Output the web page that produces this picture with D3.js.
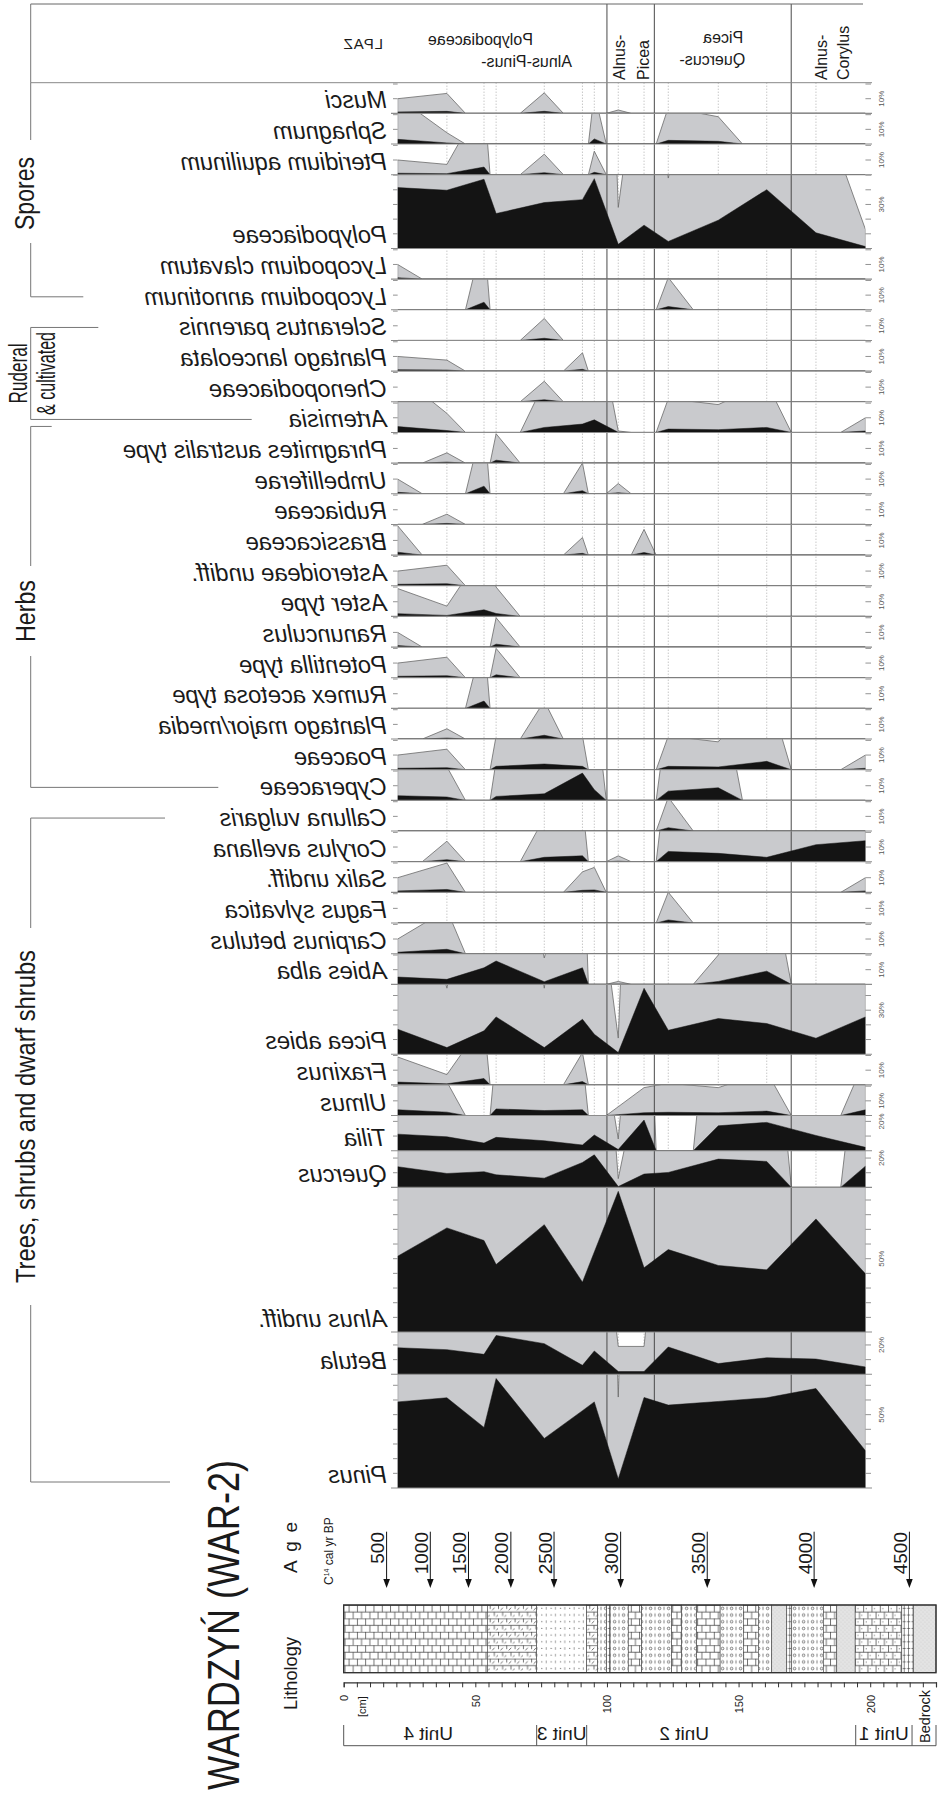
<!DOCTYPE html>
<html>
<head>
<meta charset="utf-8">
<script src="https://cdn.jsdelivr.net/npm/d3@7"></script>
<style>
  body { margin: 0; background: #fff; }
  svg { display: block; }
  text { font-family: "Liberation Sans", Arial, sans-serif; fill: #1a1a1a; }
  .narrow { font-family: "Liberation Sans Narrow", "Liberation Sans", Arial, sans-serif; }
</style>
</head>
<body>
<svg id="chart" width="938" height="1793"></svg>
<script>
// Pollen diagram WARDZYN (WAR-2), drawn transposed: depth runs left to right,
// each taxon is a horizontal band, percentages grow upward from its baseline.

// sample depths (cm)
const depths = [20.5, 39.2, 53.3, 57.9, 76.2, 90.7, 95.2, 104.3, 114.1, 123.3, 142.3, 160.7, 179.4, 198.2];

// percentages per taxon, one value per sample
const pinus         = [58.7, 61.5, 41.3, 74.6, 33.8, 52.7, 58.7, 6.2, 61.7, 56.5, 59, 61.5, 67.8, 25.4];
const betula        = [18.1, 16.8, 13.6, 26.5, 20.9, 6.1, 15.9, 1.9, 1.9, 18.6, 7.3, 11.3, 10.4, 5.0];
const alnus         = [51.7, 71, 62.4, 46, 73.2, 34, 54.6, 95.9, 43.8, 56.2, 45.4, 42.4, 77.1, 39.7];
const quercus       = [14.1, 9.5, 10.7, 8.6, 6.3, 17, 22.2, 0.6, 9.1, 10.2, 19.3, 17.7, 0, 14.5];
const tilia         = [11.3, 9.5, 5.2, 9.1, 6.8, 3.9, 10.7, 0.8, 20.9, 0, 17, 19.3, 10.4, 2.3];
const ulmus         = [3.9, 2.3, 0, 4.5, 3.4, 3.9, 0, 0.6, 1.9, 2.2, 1.9, 3.0, 0, 3.9];
const fraxinus      = [1.9, 0.7, 4.3, 0, 0, 2.2, 0, 0, 0, 0, 0, 0, 0, 0];
const picea         = [17, 4.5, 15.9, 25.4, 4.5, 23.8, 13.6, 1.1, 44.9, 16.3, 24.3, 20.9, 10.9, 25.4];
const abies         = [5, 3.4, 11.3, 15.9, 1.8, 11.3, 0, 0.2, 0, 0, 2.0, 9.0, 0, 0];
const carpinus      = [1.0, 3.0, 0, 0, 0, 0, 0, 0, 0, 0, 0, 0, 0, 0];
const fagus         = [0, 0, 0, 0, 0, 0, 0, 0, 0, 2.1, 0, 0, 0, 0];
const salix         = [1.0, 2.0, 0, 0, 0, 1.4, 1.7, 0, 0, 0, 0, 0, 0, 1.0];
const corylus       = [0, 1.4, 0, 0, 3.0, 4.0, 0, 0.4, 0, 7.0, 5.7, 3.0, 11.6, 14.3];
const calluna       = [0, 0, 0, 0, 0, 0, 0, 0, 0, 2.3, 0, 0, 0, 0];
const cyperaceae    = [3.2, 2.3, 0, 2.7, 4.5, 18.6, 7.3, 0, 0, 6.3, 8.6, 0, 0, 0];
const poaceae       = [1.0, 1.4, 0, 2.3, 3.9, 2.3, 0, 0, 0, 2.3, 1.9, 5.7, 0, 1.0];
const plantagoMajor = [0, 0.7, 0, 0, 2.6, 0, 0, 0, 0, 0, 0, 0, 0, 0];
const rumex         = [0, 0, 5.0, 0, 0, 0, 0, 0, 0, 0, 0, 0, 0, 0];
const potentilla    = [1.0, 1.4, 0, 2.0, 0, 0, 0, 0, 0, 0, 0, 0, 0, 0];
const ranunculus    = [1.0, 0, 0, 2.0, 0, 0, 0, 0, 0, 0, 0, 0, 0, 0];
const asterType     = [1.9, 0.7, 4.5, 2.0, 0, 0, 0, 0, 0, 0, 0, 0, 0, 0];
const asteroideae   = [1.0, 1.4, 0, 0, 0, 0, 0, 0, 0, 0, 0, 0, 0, 0];
const brassicaceae  = [2.0, 0, 0, 0, 0, 1.2, 0, 0, 1.75, 0, 0, 0, 0, 0];
const rubiaceae     = [0, 0.7, 0, 0, 0, 0, 0, 0, 0, 0, 0, 0, 0, 0];
const umbelliferae  = [1.0, 0, 5.2, 0, 0, 2.1, 0, 0.7, 0, 0, 0, 0, 0, 0];
const phragmites    = [0, 0.7, 0, 2.0, 0, 0, 0, 0, 0, 0, 0, 0, 0, 0];
const artemisia     = [4.0, 1.3, 0, 0, 3.4, 5.7, 8.6, 0.1, 0, 2.3, 1.9, 3.4, 0, 1.0];
const chenopodiaceae= [0, 0, 0, 0, 1.4, 0, 0, 0, 0, 0, 0, 0, 0, 0];
const plantagoLanc  = [1.0, 0.75, 0, 0, 0, 1.25, 0, 0, 0, 0, 0, 0, 0, 0];
const scleranthus   = [0, 0, 0, 0, 1.5, 0, 0, 0, 0, 0, 0, 0, 0, 0];
const lycAnnotinum  = [0, 0, 5.2, 0, 0, 0, 0, 0, 0, 2.2, 0, 0, 0, 0];
const lycClavatum   = [1.0, 0, 0, 0, 0, 0, 0, 0, 0, 0, 0, 0, 0, 0];
const polypodiaceae = [41.5, 39.7, 47.2, 23.8, 31.3, 33.3, 47.6, 2.8, 15.9, 4.8, 19.3, 40.1, 10.7, 1.3];
const pteridium     = [1.0, 0.7, 5.2, 0, 1.4, 0, 1.6, 0, 0, 0, 0, 0, 0, 0];
const sphagnum      = [3.2, 0.77, 0, 0, 0, 0, 3.5, 0, 0, 2.5, 1.86, 0, 0, 0];
const musci         = [1.0, 1.36, 0, 0, 1.4, 0, 0, 0.23, 0, 0, 0, 0, 0, 0];

// taxa from the bottom band upward, with the percentage range of each band
const taxaNames = ['Pinus', 'Betula', 'Alnus undiff.', 'Quercus', 'Tilia', 'Ulmus', 'Fraxinus',
  'Picea abies', 'Abies alba', 'Carpinus betulus', 'Fagus sylvatica', 'Salix undiff.',
  'Corylus avellana', 'Calluna vulgaris', 'Cyperaceae', 'Poaceae', 'Plantago major/media',
  'Rumex acetosa type', 'Potentilla type', 'Ranunculus', 'Aster type', 'Asteroideae undiff.',
  'Brassicaceae', 'Rubiaceae', 'Umbelliferae', 'Phragmites australis type', 'Artemisia',
  'Chenopodiaceae', 'Plantago lanceolata', 'Sclerantus parennis', 'Lycopodium annotinum',
  'Lycopodium clavatum', 'Polypodiaceae', 'Pteridium aquilinum', 'Sphagnum', 'Musci'];
const taxaValues = [pinus, betula, alnus, quercus, tilia, ulmus, fraxinus, picea, abies, carpinus,
  fagus, salix, corylus, calluna, cyperaceae, poaceae, plantagoMajor, rumex, potentilla, ranunculus,
  asterType, asteroideae, brassicaceae, rubiaceae, umbelliferae, phragmites, artemisia,
  chenopodiaceae, plantagoLanc, scleranthus, lycAnnotinum, lycClavatum, polypodiaceae, pteridium,
  sphagnum, musci];
const taxaRange = [77.5, 28.8, 98.6, 25, 24, 20.9, 20.9, 47.6, 20.9, 20.9, 20.9, 20.9, 20.9, 20.9,
  20.9, 20.9, 20.9, 20.9, 20.9, 20.9, 20.9, 20.9, 20.9, 20.9, 20.9, 20.9, 20.9, 20.9, 20.9, 20.9,
  20.9, 20.9, 50.3, 20.9, 20.9, 20.9];
const exaggeration = 10;

// local pollen assemblage zones
const zoneBounds = [100, 118, 170];

// radiocarbon ages and their depths
const ageLabels = [500, 1000, 1500, 2000, 2500, 3000, 3500, 4000, 4500];
const ageDepths = [16.3, 32.9, 47.4, 63.5, 79.9, 105.2, 138.1, 178.7, 214.9];

// lithology: top of each layer and its symbol
const lithoTop  = [0, 54.6, 73.3, 92.3, 96.5, 99.9, 101.2, 108.1, 113.2, 124.6, 128.4, 134.1, 143,
  151.8, 157.5, 162.6, 168.3, 170.2, 182.2, 187.3, 194.3, 212, 216.4];
const lithoType = ['brick', 'sedge', 'silt', 'sedge', 'gravel', 'peat', 'gravel', 'brick', 'gravel',
  'brick', 'gravel', 'brick', 'gravel', 'brick', 'gravel', 'sand', 'peat', 'gravel', 'brick', 'sand',
  'brickdot', 'peat', 'sand'];
const coreBottom = 225;

const unitNames  = ['Unit 4', 'Unit 3', 'Unit 2', 'Unit 1'];
const unitBounds = [0, 73.3, 92.3, 194.5, 215.9];

const svg = d3.select('#chart');
const defs = svg.append('defs');

const depthScale = d3.scaleLinear().domain([0, coreBottom]).range([343.7, 936]);
const plotTop = 82.7, plotBottom = 1488;
const plotX0 = depthScale(depths[0]);
const plotX1 = depthScale(depths[depths.length - 1]);

// band layout
const pxPerPct = (plotBottom - plotTop) / d3.sum(taxaRange);
const bands = [];
let base = plotBottom;
taxaNames.forEach(function (name, i) {
  const top = base - taxaRange[i] * pxPerPct;
  bands.push({
    name: name, values: taxaValues[i], range: taxaRange[i], base: base, top: top,
    y: d3.scaleLinear().domain([0, taxaRange[i]]).range([base, top])
  });
  base = top;
});
function bandOf(name) { return bands[taxaNames.indexOf(name)]; }
function labelCenter(name) { return bandOf(name).base - 13; }

// curve points: a zero sample pulls the curve down to the midpoint
function curvePoints(vals, f) {
  const out = [];
  vals.forEach(function (v, i) {
    if (v > 0) { out.push([depths[i], v * f]); return; }
    if (i > 0 && vals[i - 1] > 0) out.push([(depths[i - 1] + depths[i]) / 2, 0]);
    out.push([depths[i], 0]);
    if (i < vals.length - 1 && vals[i + 1] > 0) out.push([(depths[i] + depths[i + 1]) / 2, 0]);
  });
  return out;
}

function upText(g, x, y, str, size, anchor) {
  return g.append('text').attr('transform', 'translate(' + x + ',' + y + ') rotate(-90)')
    .attr('text-anchor', anchor || 'start').style('font-size', size + 'px').text(str);
}
function mirrorText(g, x, y, str, size, anchor) {
  return g.append('text').attr('transform', 'translate(' + x + ',' + y + ') scale(-1,1)')
    .attr('text-anchor', anchor || 'start').style('font-size', size + 'px').text(str);
}

const gGrid = svg.append('g');
const gGray = svg.append('g');
const gZone = svg.append('g');
const gBlack = svg.append('g');
const gAxes = svg.append('g');
const gText = svg.append('g');

// dotted sample lines
gGrid.selectAll('line').data(depths.slice(1, -1)).enter().append('line')
  .attr('x1', d => depthScale(d)).attr('x2', d => depthScale(d))
  .attr('y1', plotTop).attr('y2', plotBottom)
  .attr('stroke', '#9a9a9a').attr('stroke-width', 0.8).attr('stroke-dasharray', '1,2');

// curves
bands.forEach(function (b, i) {
  defs.append('clipPath').attr('id', 'band' + i).append('rect')
    .attr('x', plotX0).attr('y', b.top).attr('width', plotX1 - plotX0).attr('height', b.base - b.top);
  const area = d3.area().x(d => depthScale(d[0])).y0(b.base).y1(d => b.y(d[1]));
  gGray.append('path').attr('d', area(curvePoints(b.values, exaggeration)))
    .attr('clip-path', 'url(#band' + i + ')')
    .attr('fill', '#c9cacd').attr('stroke', '#6a6a6a').attr('stroke-width', 0.8);
  gBlack.append('path').attr('d', area(curvePoints(b.values, 1)))
    .attr('clip-path', 'url(#band' + i + ')')
    .attr('fill', '#141414').attr('stroke', '#141414').attr('stroke-width', 0.5);
});

// zone boundaries and header
const zoneX = zoneBounds.map(d => depthScale(d));
gZone.selectAll('line').data(zoneX).enter().append('line')
  .attr('x1', d => d).attr('x2', d => d).attr('y1', 4).attr('y2', plotBottom)
  .attr('stroke', '#4a4a4a').attr('stroke-width', 1);
gAxes.append('line').attr('x1', 30.7).attr('x2', 863).attr('y1', 4).attr('y2', 4)
  .attr('stroke', '#666').attr('stroke-width', 1);
gAxes.append('line').attr('x1', 30.7).attr('x2', 872).attr('y1', plotTop).attr('y2', plotTop)
  .attr('stroke', '#888').attr('stroke-width', 1);

// baselines, ticks and percent labels
bands.forEach(function (b) {
  gAxes.append('line').attr('x1', 391).attr('x2', 872).attr('y1', b.base).attr('y2', b.base)
    .attr('stroke', '#8c8c8c').attr('stroke-width', 1.1);
  const lab = b.range >= 60 ? 50 : b.range >= 40 ? 30 : b.range >= 23 ? 20 : 10;
  for (let p = 10; p < b.range; p += 10) {
    const y = b.y(p);
    gAxes.append('line').attr('x1', 393).attr('x2', plotX0).attr('y1', y).attr('y2', y)
      .attr('stroke', '#777').attr('stroke-width', 0.8);
    gAxes.append('line').attr('x1', plotX1).attr('x2', 871).attr('y1', y).attr('y2', y)
      .attr('stroke', '#777').attr('stroke-width', 0.8);
    if (p === lab) {
      upText(gText, 884, y, p + '%', 8, 'middle').style('fill', '#555');
    }
  }
  mirrorText(gText, 386.7, b.base - 5, b.name, 23.5).style('font-style', 'italic');
});

// zone names
mirrorText(gText, zoneX[0] - 74, 45, 'Polypodiaceae', 16);
mirrorText(gText, zoneX[0] - 35, 67, 'Alnus-Pinus-', 16);
upText(gText, zoneX[0] + 18.5, 80, 'Alnus-', 16);
upText(gText, zoneX[0] + 42.5, 80, 'Picea', 16);
mirrorText(gText, zoneX[2] - 48, 43, 'Picea', 16);
mirrorText(gText, zoneX[2] - 46, 65, 'Quercus-', 16);
upText(gText, zoneX[2] + 36, 80, 'Alnus-', 16);
upText(gText, zoneX[2] + 57.5, 80, 'Corylus', 16);
mirrorText(gText, 383, 49, 'LPAZ', 15).style('letter-spacing', '1px');

// ecological group brackets
function bracket(y0, y1, end0, end1, gapCenter, gapHalf) {
  const x = 30.7;
  const segs = gapHalf ? [[y0, gapCenter - gapHalf], [gapCenter + gapHalf, y1]] : [[y0, y1]];
  segs.forEach(s => gAxes.append('line').attr('x1', x).attr('x2', x).attr('y1', s[0]).attr('y2', s[1])
    .attr('stroke', '#777').attr('stroke-width', 1));
  if (end0) gAxes.append('line').attr('x1', x).attr('x2', end0).attr('y1', y0).attr('y2', y0)
    .attr('stroke', '#777').attr('stroke-width', 1);
  gAxes.append('line').attr('x1', x).attr('x2', end1).attr('y1', y1).attr('y2', y1)
    .attr('stroke', '#777').attr('stroke-width', 1);
}
function groupTitle(str, baseX, cy, len, size) {
  upText(gText, baseX, cy, str, size || 28, 'middle').classed('narrow', true)
    .attr('textLength', len).attr('lengthAdjust', 'spacingAndGlyphs');
}
gAxes.append('line').attr('x1', 30.7).attr('x2', 30.7).attr('y1', 4).attr('y2', plotTop)
  .attr('stroke', '#777').attr('stroke-width', 1);

let y0 = plotTop, y1 = labelCenter('Lycopodium annotinum');
bracket(y0, y1, null, 83.3, 191.5, 51.5);
groupTitle('Spores', 33.5, 193.5, 73);

y0 = labelCenter('Sclerantus parennis'); y1 = labelCenter('Artemisia');
bracket(y0, y1, 98.3, 251.7);
groupTitle('Ruderal', 27, (y0 + y1) / 2, 60, 26);
groupTitle('& cultivated', 55, (y0 + y1) / 2, 83, 26);

y0 = bandOf('Artemisia').base - 6; y1 = labelCenter('Cyperaceae');
bracket(y0, y1, 51.7, 218.3, 611, 45);
groupTitle('Herbs', 35, 611, 62);

y0 = labelCenter('Calluna vulgaris'); y1 = plotBottom - 6;
bracket(y0, y1, 165, 170, 1116.5, 188.5);
groupTitle('Trees, shrubs and dwarf shrubs', 35, 1116.5, 333);

// title
upText(gText, 239, 1790, 'WARDZYŃ (WAR-2)', 44).classed('narrow', true)
  .attr('textLength', 330).attr('lengthAdjust', 'spacingAndGlyphs');
upText(gText, 297, 1710, 'Lithology', 19).attr('textLength', 73).attr('lengthAdjust', 'spacingAndGlyphs');
upText(gText, 297, 1573, 'Age', 19).attr('textLength', 51);
const cText = upText(gText, 333, 1585, 'C', 12);
cText.append('tspan').attr('dy', -4).style('font-size', '7px').text('14');
cText.append('tspan').attr('dy', 4).text(' cal yr BP');

// age arrows
ageLabels.forEach(function (a, i) {
  const x = depthScale(ageDepths[i]);
  gAxes.append('line').attr('x1', x).attr('x2', x).attr('y1', 1531.7).attr('y2', 1581)
    .attr('stroke', '#111').attr('stroke-width', 1);
  gAxes.append('path').attr('d', 'M' + (x - 3.3) + ',1579L' + (x + 3.3) + ',1579L' + x + ',1588Z')
    .attr('fill', '#111');
  upText(gText, x - 2.5, 1532, a, 19, 'end');
});

// lithology patterns
function addPattern(id, w, h, draw) {
  const p = defs.append('pattern').attr('id', id).attr('patternUnits', 'userSpaceOnUse')
    .attr('width', w).attr('height', h).attr('patternTransform', 'translate(0,1605)');
  p.append('rect').attr('width', w).attr('height', h).attr('fill', '#fff');
  draw(p);
}
const ink = '#333';
addPattern('brick', 8.3, 13.4, p => p.append('path')
  .attr('d', 'M0,0.3H8.3M0,7H8.3M0.5,0V7M4.65,7V13.4').attr('stroke', ink).attr('stroke-width', 0.7).attr('fill', 'none'));
addPattern('brickdot', 8.3, 13.4, function (p) {
  p.append('path').attr('d', 'M0,0.3H8.3M0,7H8.3M0.5,0V7M4.65,7V13.4').attr('stroke', ink).attr('stroke-width', 0.7).attr('fill', 'none');
  p.append('circle').attr('cx', 3).attr('cy', 3.6).attr('r', 0.5).attr('fill', ink);
  p.append('circle').attr('cx', 7).attr('cy', 10.2).attr('r', 0.5).attr('fill', ink);
});
addPattern('sedge', 8.3, 13.4, p => p.append('path')
  .attr('d', 'M0,0.3H8.3M0,7H8.3M0.5,0V4M4.65,7V11M2.5,5.2l2.4,-2.6M6.6,11.9l2.4,-2.6')
  .attr('stroke', ink).attr('stroke-width', 0.7).attr('fill', 'none'));
addPattern('silt', 9.3, 6.7, function (p) {
  p.append('circle').attr('cx', 2.5).attr('cy', 3.3).attr('r', 0.55).attr('fill', '#555');
  p.append('path').attr('d', 'M6.8,2V4.6').attr('stroke', '#555').attr('stroke-width', 0.6);
});
addPattern('gravel', 9, 6.7, function (p) {
  p.append('circle').attr('cx', 2.6).attr('cy', 3.35).attr('r', 1.3).attr('fill', 'none')
    .attr('stroke', ink).attr('stroke-width', 0.6);
  p.append('path').attr('d', 'M7,1.7V5').attr('stroke', ink).attr('stroke-width', 0.6);
});
addPattern('sand', 4, 4, function (p) {
  p.select('rect').attr('fill', '#e3e3e3');
  p.append('circle').attr('cx', 1).attr('cy', 1).attr('r', 0.35).attr('fill', '#999');
  p.append('circle').attr('cx', 3).attr('cy', 3).attr('r', 0.35).attr('fill', '#999');
});
addPattern('peat', 4.4, 6.7, p => p.append('path')
  .attr('d', 'M2.2,0V6.7M0.6,3.3H3.8').attr('stroke', ink).attr('stroke-width', 0.6));

const lithoY0 = 1605, lithoY1 = 1672.7;
lithoTop.forEach(function (d, i) {
  const next = i < lithoTop.length - 1 ? lithoTop[i + 1] : coreBottom;
  gAxes.append('rect').attr('x', depthScale(d)).attr('y', lithoY0)
    .attr('width', depthScale(next) - depthScale(d)).attr('height', lithoY1 - lithoY0)
    .attr('fill', 'url(#' + lithoType[i] + ')').attr('stroke', '#444').attr('stroke-width', 0.6);
});
gAxes.append('rect').attr('x', depthScale(0)).attr('y', lithoY0)
  .attr('width', depthScale(coreBottom) - depthScale(0)).attr('height', lithoY1 - lithoY0)
  .attr('fill', 'none').attr('stroke', '#333').attr('stroke-width', 1.4);

// depth axis
const depthAxis = d3.axisBottom(depthScale)
  .tickValues(d3.range(0, coreBottom + 1, 5)).tickSize(5)
  .tickFormat(d => d % 50 === 0 ? d : '');
const gDepth = gAxes.append('g').attr('transform', 'translate(0,1682.3)').call(depthAxis);
gDepth.select('.domain').attr('stroke', '#333').attr('stroke-width', 1.2);
gDepth.selectAll('.tick line').attr('stroke', '#333');
gDepth.selectAll('.tick text')
  .attr('transform', 'rotate(-90)').attr('x', -12.7).attr('y', 4).attr('dy', 0)
  .attr('text-anchor', 'end').style('font-size', '11px')
  .style('font-family', '"Liberation Sans", Arial, sans-serif').attr('fill', '#1a1a1a');
upText(gText, 366, 1717, '[cm]', 11);

// units
const unitY = 1745.7;
gAxes.append('line').attr('x1', depthScale(0)).attr('x2', depthScale(coreBottom))
  .attr('y1', unitY).attr('y2', unitY).attr('stroke', '#555').attr('stroke-width', 1);
unitBounds.concat([coreBottom]).forEach(function (d) {
  gAxes.append('line').attr('x1', depthScale(d)).attr('x2', depthScale(d))
    .attr('y1', 1725).attr('y2', unitY).attr('stroke', '#555').attr('stroke-width', 1);
});
const unitShift = [-12, 0, -37, 0];
unitNames.forEach(function (u, i) {
  const cx = (depthScale(unitBounds[i]) + depthScale(unitBounds[i + 1])) / 2 + unitShift[i];
  mirrorText(gText, cx, 1740, u, 19, 'middle');
});
upText(gText, (depthScale(unitBounds[4]) + depthScale(coreBottom)) / 2 + 6, 1743, 'Bedrock', 15)
  .attr('textLength', 53).attr('lengthAdjust', 'spacingAndGlyphs');
</script>
</body>
</html>
